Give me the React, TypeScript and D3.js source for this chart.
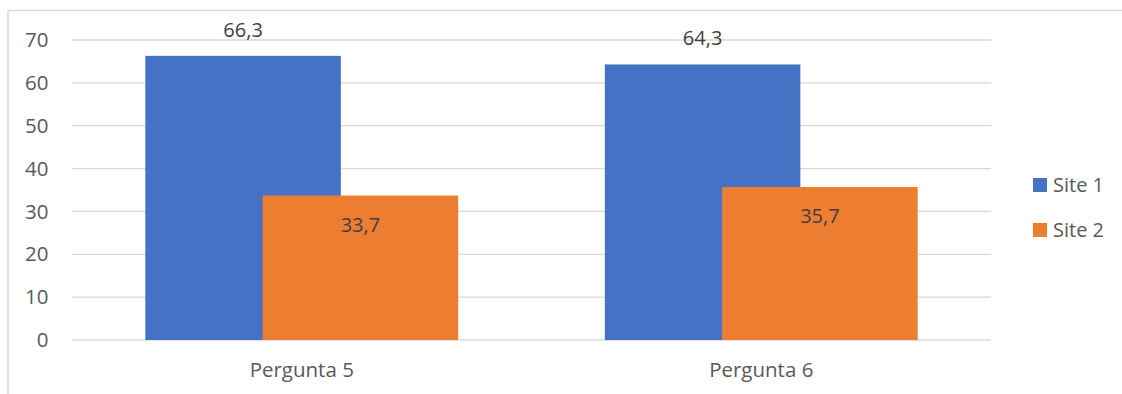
import React from 'react';
import * as d3 from 'd3';

const categories = ['Pergunta 5', 'Pergunta 6'];
const seriesNames = ['Site 1', 'Site 2'];
const site1 = [66.3, 64.3];
const site2 = [33.7, 35.7];
const yTicks = [0, 10, 20, 30, 40, 50, 60, 70];
const colors = ['#4472c4', '#ed7d31'];

const W = 1122;
const H = 394;
const FONT = '"Open Sans", sans-serif';

export default function App() {
  const series = [site1, site2];
  const y = d3.scaleLinear().domain([0, 70]).range([340, 40]);
  const x = d3.scaleBand().domain(categories).range([72, 991]);

  // excel-like gap width 75%, overlap 40%
  const gap = 0.75;
  const overlap = 0.4;
  const bw = x.bandwidth() / (gap + 1 + (series.length - 1) * (1 - overlap));
  const step = bw * (1 - overlap);
  const fmt = (v: number) => v.toFixed(1).replace('.', ',');

  return (
    <svg width={W} height={H} style={{ position: 'absolute', left: 0, top: 0, background: '#fff' }}>
      <rect x={0} y={0} width={W} height={H} fill="#fff" />
      <line x1={8} x2={W} y1={10.5} y2={10.5} stroke="#d9d9d9" strokeWidth={1.5} />
      <line x1={8} x2={8} y1={10} y2={H} stroke="#d9d9d9" strokeWidth={1.5} />

      {yTicks.map(t => (
        <g key={t}>
          <line x1={72} x2={991} y1={y(t)} y2={y(t)} stroke="#d9d9d9" strokeWidth={1.3} />
          <text x={48.5} y={y(t)} dy="0.35em" textAnchor="end" fontFamily={FONT} fontSize={20.5} fill="#595959">{t}</text>
        </g>
      ))}

      {categories.map((c, i) => {
        const x0 = (x(c) as number) + gap * bw / 2;
        return (
          <g key={c}>
            {series.map((s, j) => (
              <rect key={j} x={x0 + j * step} y={y(s[i])} width={bw} height={y(0) - y(s[i])} fill={colors[j]} />
            ))}
            <text x={x0 + bw / 2} y={y(site1[i]) - 19} textAnchor="middle" fontFamily={FONT} fontSize={20} fill="#404040">{fmt(site1[i])}</text>
            <text x={x0 + step + bw / 2} y={y(site2[i]) + 36} textAnchor="middle" fontFamily={FONT} fontSize={20} fill="#404040">{fmt(site2[i])}</text>
            <text x={(x(c) as number) + x.bandwidth() / 2} y={377} textAnchor="middle" fontFamily={FONT} fontSize={20.5} fill="#595959">{c}</text>
          </g>
        );
      })}

      {seriesNames.map((n, j) => (
        <g key={n} transform={`translate(1033, ${178 + j * 45})`}>
          <rect x={0} y={0} width={14} height={14} fill={colors[j]} />
          <text x={20} y={7} dy="0.36em" fontFamily={FONT} fontSize={20} fill="#595959">{n}</text>
        </g>
      ))}
    </svg>
  );
}
